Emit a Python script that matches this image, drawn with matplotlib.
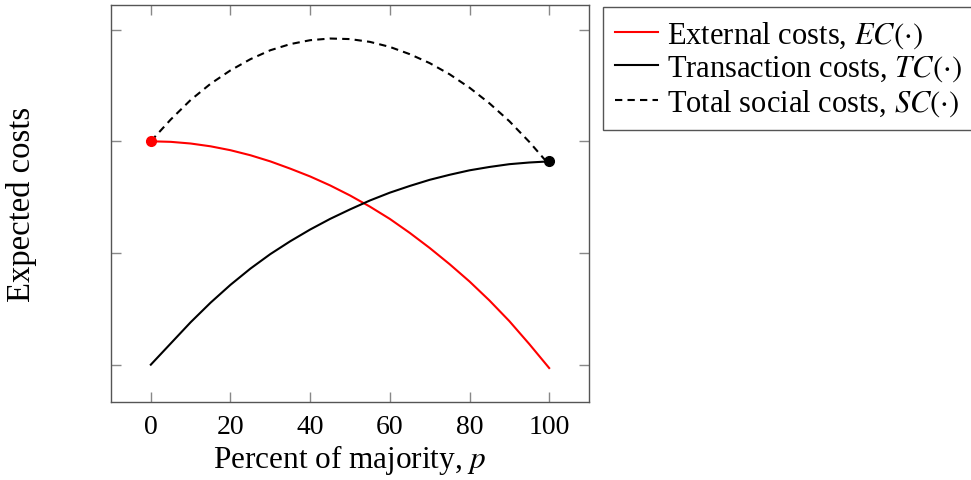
"""
expected costs vs percent of majority: external, transaction and total social costs
"""
import matplotlib
matplotlib.use("Agg")
import matplotlib.pyplot as plt

# values (p in percent)
p_values = [0, 5, 10, 15, 20, 25, 30, 35, 40, 45, 50,
            55, 60, 65, 70, 75, 80, 85, 90, 95, 100]
external_costs = [2.00, 1.995, 1.98, 1.955, 1.92, 1.875, 1.82, 1.755, 1.685, 1.605, 1.515,
                  1.415, 1.305, 1.18, 1.045, 0.90, 0.745, 0.575, 0.39, 0.185, -0.03]
transaction_costs = [0.00, 0.19, 0.38, 0.555, 0.715, 0.86, 0.99, 1.105, 1.21, 1.305, 1.39,
                     1.47, 1.54, 1.60, 1.655, 1.70, 1.74, 1.77, 1.795, 1.81, 1.82]
social_costs = [2.00, 2.195, 2.37, 2.515, 2.635, 2.735, 2.815, 2.87, 2.905, 2.92, 2.915,
                2.89, 2.845, 2.78, 2.70, 2.60, 2.48, 2.34, 2.18, 1.995, 1.79]

x_ticks = [0, 20, 40, 60, 80, 100]
y_ticks = [0, 1, 2, 3]

labels = ["External costs, $EC(\\cdot)$",
          "Transaction costs, $TC(\\cdot)$",
          "Total social costs, $SC(\\cdot)$"]


def make_plot(output_file):
    plt.rcParams['font.family'] = ['Liberation Serif', 'DejaVu Serif']
    plt.rcParams['mathtext.fontset'] = 'stix'

    fig = plt.figure(figsize=(9.71, 4.81), dpi=100)
    ax = fig.add_axes([0.1143, 0.1622, 0.4923, 0.8253])

    ax.plot(p_values, external_costs, color='red', lw=1.5, label=labels[0])
    ax.plot(p_values, transaction_costs, color='black', lw=1.5, label=labels[1])
    ax.plot(p_values, social_costs, color='black', lw=1.5,
            linestyle=(0, (3.5, 2.5)), label=labels[2])

    # end point markers
    ax.plot(p_values[0], external_costs[0], 'o', color='red', ms=7)
    ax.plot(p_values[-1], transaction_costs[-1], 'o', color='black', ms=7)

    ax.set_xlim(-10, 110)
    ax.set_ylim(-0.334, 3.22)
    ax.set_xticks(x_ticks)
    ax.set_yticks(y_ticks)
    ax.set_yticklabels([])
    ax.tick_params(direction='in', length=7, width=1, color='#888888',
                   top=True, right=True, labelsize=20, pad=9)
    for s in ax.spines.values():
        s.set_color('#555555')
        s.set_linewidth(1)

    ax.set_xlabel("Percent of majority, $p$", fontsize=22.5, labelpad=2)
    ax.set_ylabel("Expected costs", fontsize=23.5)
    ax.yaxis.set_label_coords(-0.155, 0.5)

    leg = ax.legend(loc='upper left', bbox_to_anchor=(1.029, 0.995),
                    borderaxespad=0, fontsize=22, fancybox=False,
                    edgecolor='#555555', framealpha=1, handlelength=1.4,
                    handletextpad=0.3, labelspacing=0.12, borderpad=0.4)
    leg.get_frame().set_linewidth(1)

    fig.savefig(output_file, dpi=100)
    plt.close(fig)


if __name__ == '__main__':
    make_plot("out.png")
